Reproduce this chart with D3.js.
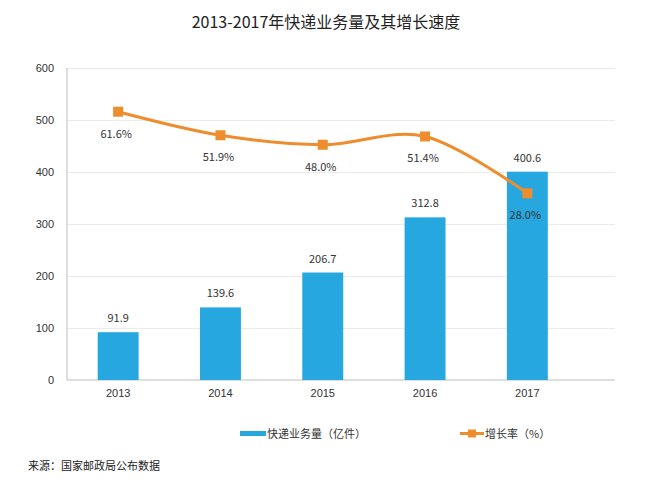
<!DOCTYPE html>
<html>
<head>
	<meta charset="utf-8">
	<title>快递业务量</title>
	<script src="https://cdn.jsdelivr.net/npm/d3@7"></script>
	<style>
		body {
			margin: 0;
			background: #fff;
			font-family: 'Noto Sans CJK SC', 'Noto Sans', sans-serif;
		}
		.grid line { stroke: #ebebeb; }
		.grid path { display: none; }
		.axis text { fill: #333; font-size: 11px; }
		.axis path, .axis line { stroke: #bdbdbd; }
	</style>
</head>
<body>
<div id="chart"></div>
<script>
	// Data.
	const years = ['2013', '2014', '2015', '2016', '2017'];
	const volume = [91.9, 139.6, 206.7, 312.8, 400.6];   // 亿件
	const growth = [61.6, 51.9, 48.0, 51.4, 28.0];        // %
	const yTicks = [0, 100, 200, 300, 400, 500, 600];

	const W = 669, H = 486;
	const plotLeft = 67, plotRight = 615, plotTop = 68, plotBottom = 380;
	const barColor = '#27a7df';
	const lineColor = '#ee8d2d';

	const svg = d3.select('#chart').append('svg')
		.attr('width', W)
		.attr('height', H);

	// Title.
	svg.append('text')
		.attr('x', 326)
		.attr('y', 28)
		.attr('text-anchor', 'middle')
		.attr('font-size', 16)
		.attr('fill', '#222')
		.text('2013-2017年快递业务量及其增长速度');

	const x = d3.scaleBand()
		.domain(years)
		.range([plotLeft, plotLeft + 102.3 * years.length])
		.paddingInner(0.6)
		.paddingOuter(0.3);

	const y = d3.scaleLinear().domain([0, 600]).range([plotBottom, plotTop]);
	// Hidden right axis for the growth rate.
	const y2 = d3.scaleLinear().domain([-48.9, 79.6]).range([plotBottom, plotTop]);

	// Gridlines.
	svg.append('g')
		.attr('class', 'grid')
		.attr('transform', 'translate(' + plotLeft + ',0)')
		.call(d3.axisLeft(y).tickValues(yTicks.slice(1)).tickSize(-(plotRight - plotLeft)).tickFormat(''));

	// Y axis labels.
	const yAxis = svg.append('g')
		.attr('class', 'axis')
		.attr('transform', 'translate(' + plotLeft + ',0)')
		.call(d3.axisLeft(y).tickValues(yTicks).tickSize(0).tickPadding(13));
	yAxis.select('.domain').attr('d', 'M0,' + plotTop + 'V' + plotBottom);

	// X axis.
	const xAxis = svg.append('g')
		.attr('class', 'axis')
		.attr('transform', 'translate(0,' + plotBottom + ')')
		.call(d3.axisBottom(x).tickSize(0).tickPadding(9));
	xAxis.select('.domain').attr('d', 'M' + plotLeft + ',0H' + plotRight);

	// Bars.
	svg.append('g').selectAll('rect')
		.data(volume)
		.join('rect')
			.attr('x', (d, i) => x(years[i]))
			.attr('y', d => y(d))
			.attr('width', x.bandwidth())
			.attr('height', d => plotBottom - y(d))
			.attr('fill', barColor);

	svg.append('g').selectAll('text')
		.data(volume)
		.join('text')
			.attr('x', (d, i) => x(years[i]) + x.bandwidth() / 2)
			.attr('y', d => y(d) - 10)
			.attr('text-anchor', 'middle')
			.attr('font-size', 11)
			.attr('fill', '#333')
			.text(d => d.toFixed(1));

	// Growth line.
	const cx = (d, i) => x(years[i]) + x.bandwidth() / 2;
	const line = d3.line()
		.x(cx)
		.y(d => y2(d))
		.curve(d3.curveCardinal.tension(0));

	svg.append('path')
		.datum(growth)
		.attr('d', line)
		.attr('fill', 'none')
		.attr('stroke', lineColor)
		.attr('stroke-width', 3);

	svg.append('g').selectAll('rect')
		.data(growth)
		.join('rect')
			.attr('x', (d, i) => cx(d, i) - 5)
			.attr('y', d => y2(d) - 5)
			.attr('width', 10)
			.attr('height', 10)
			.attr('fill', lineColor);

	svg.append('g').selectAll('text')
		.data(growth)
		.join('text')
			.attr('x', (d, i) => cx(d, i) - 2)
			.attr('y', d => y2(d) + 26)
			.attr('text-anchor', 'middle')
			.attr('font-size', 11)
			.attr('fill', '#333')
			.text(d => d.toFixed(1) + '%');

	// Legend.
	const legend = svg.append('g').attr('font-size', 11).attr('fill', '#333');
	legend.append('rect')
		.attr('x', 240).attr('y', 431).attr('width', 26).attr('height', 5)
		.attr('fill', barColor);
	legend.append('text')
		.attr('x', 267).attr('y', 437.5)
		.text('快递业务量（亿件）');
	legend.append('line')
		.attr('x1', 460).attr('x2', 484).attr('y1', 433.5).attr('y2', 433.5)
		.attr('stroke', lineColor).attr('stroke-width', 3);
	legend.append('rect')
		.attr('x', 468).attr('y', 429.5).attr('width', 8).attr('height', 8)
		.attr('fill', lineColor);
	legend.append('text')
		.attr('x', 485).attr('y', 437.5)
		.text('增长率（%）');

	// Source note.
	svg.append('text')
		.attr('x', 28)
		.attr('y', 470)
		.attr('font-size', 11)
		.attr('fill', '#222')
		.text('来源：国家邮政局公布数据');
</script>
</body>
</html>
